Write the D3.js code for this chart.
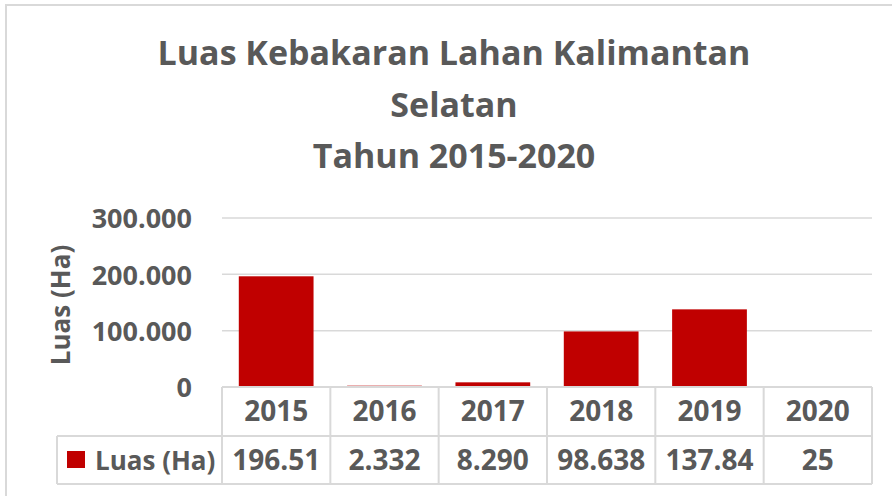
<!DOCTYPE html>
<html>
<head>
<meta charset="utf-8">
<script src="https://cdnjs.cloudflare.com/ajax/libs/d3/7.8.5/d3.min.js"></script>
<style>
  html, body { margin: 0; padding: 0; background: #fff; }
  svg text { font-family: "Open Sans", Lato, sans-serif; font-weight: 700; fill: #595959; }
</style>
</head>
<body>
<svg id="chart" width="892" height="496"></svg>
<script>
// data
const titleLines = ["Luas Kebakaran Lahan Kalimantan", "Selatan", "Tahun 2015-2020"];
const years = ["2015", "2016", "2017", "2018", "2019", "2020"];
const luas = [196516, 2332, 8290, 98638, 137840, 25];
const luasLabels = ["196.51", "2.332", "8.290", "98.638", "137.84", "25"];
const yTicks = [0, 100000, 200000, 300000];
const seriesName = "Luas (Ha)";
const axisTitle = "Luas (Ha)";

const barColor = "#c00000";
const lineColor = "#d9d9d9";

var svg = d3.select("#chart");

// outer chart border
svg.append("rect")
    .attr("x", 6).attr("y", 5)
    .attr("width", 900).attr("height", 500)
    .attr("fill", "none")
    .attr("stroke", lineColor)
    .attr("stroke-width", 2);

var scale =
{
    x: d3.scaleBand().domain(years).range([222, 872]).paddingInner(0.31).paddingOuter(0.155),
    y: d3.scaleLinear().domain([0, 300000]).range([387, 218])
};

// title
svg.append("g").selectAll("text")
    .data(titleLines)
    .join("text")
    .attr("x", 454)
    .attr("y", (d, i) => 65 + i * 51.5)
    .attr("text-anchor", "middle")
    .style("font-size", "34px")
    .text((d) => d);

// gridlines
svg.append("g").selectAll("line")
    .data(yTicks.filter((t) => t > 0))
    .join("line")
    .attr("x1", 222).attr("x2", 872)
    .attr("y1", (d) => scale.y(d)).attr("y2", (d) => scale.y(d))
    .attr("stroke", lineColor)
    .attr("stroke-width", 1.5);

// y axis labels
var fmt = (v) => v === 0 ? "0" : d3.format(",")(v).replace(/,/g, ".");
var yAxis = d3.axisLeft(scale.y).tickValues(yTicks).tickFormat(fmt).tickSize(0).tickPadding(0);
var yg = svg.append("g").attr("transform", "translate(192,0)").call(yAxis);
yg.select(".domain").remove();
yg.selectAll("text")
    .attr("font-family", null)
    .style("font-size", "27px")
    .attr("dy", "0.36em");

// axis title
svg.append("text")
    .attr("transform", "translate(70,305) rotate(-90)")
    .attr("text-anchor", "middle")
    .style("font-size", "26px")
    .text(axisTitle);

// bars
svg.append("g").selectAll("rect")
    .data(luas)
    .join("rect")
    .attr("x", (d, i) => scale.x(years[i]))
    .attr("width", scale.x.bandwidth())
    .attr("y", (d) => scale.y(d))
    .attr("height", (d) => scale.y(0) - scale.y(d))
    .attr("fill", barColor);

// data table
var rowTop = 387, rowMid = 436, rowBot = 484;
var step = scale.x.step();
var colEdges = d3.range(years.length + 1).map((i) => 222 + i * step);
var table = svg.append("g")
    .attr("stroke", lineColor)
    .attr("stroke-width", 2);

table.append("line").attr("x1", 222).attr("x2", 872).attr("y1", rowTop).attr("y2", rowTop);
table.append("line").attr("x1", 57).attr("x2", 872).attr("y1", rowMid).attr("y2", rowMid);
table.append("line").attr("x1", 57).attr("x2", 872).attr("y1", rowBot).attr("y2", rowBot);
table.append("line").attr("x1", 57).attr("x2", 57).attr("y1", rowMid).attr("y2", rowBot);
table.selectAll("line.col")
    .data(colEdges)
    .join("line")
    .attr("class", "col")
    .attr("x1", (d) => d).attr("x2", (d) => d)
    .attr("y1", rowTop).attr("y2", rowBot);

svg.append("g").selectAll("text")
    .data(years)
    .join("text")
    .attr("x", (d) => scale.x(d) + scale.x.bandwidth() / 2)
    .attr("y", 421)
    .attr("text-anchor", "middle")
    .style("font-size", "28px")
    .text((d) => d);

svg.append("g").selectAll("text")
    .data(luasLabels)
    .join("text")
    .attr("x", (d, i) => scale.x(years[i]) + scale.x.bandwidth() / 2)
    .attr("y", 470)
    .attr("text-anchor", "middle")
    .style("font-size", "28px")
    .text((d) => d);

// legend key
svg.append("rect")
    .attr("x", 67).attr("y", 451)
    .attr("width", 18).attr("height", 17)
    .attr("fill", barColor);
svg.append("text")
    .attr("x", 95).attr("y", 470)
    .style("font-size", "26px")
    .text(seriesName);
</script>
</body>
</html>
